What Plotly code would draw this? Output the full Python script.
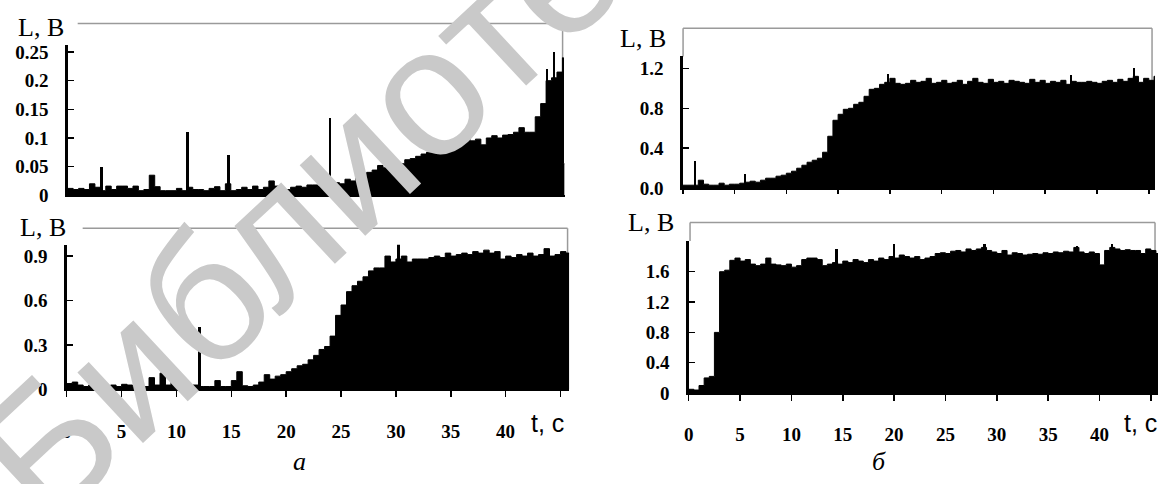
import numpy as np
import plotly.graph_objects as go

W, H = 1161, 484

# ---------------- data ----------------
t_grid = np.round(np.arange(0, 45.51, 0.5), 2)   # sample times, s

# panel "a", upper graph
L_a_top = [0.012, 0.010, 0.012, 0.010, 0.020, 0.014, 0.008, 0.016, 0.010, 0.016,
           0.016, 0.012, 0.016, 0.008, 0.010, 0.035, 0.015, 0.008, 0.008, 0.008,
           0.012, 0.008, 0.014, 0.010, 0.010, 0.008, 0.012, 0.015, 0.008, 0.020,
           0.008, 0.010, 0.014, 0.010, 0.016, 0.010, 0.014, 0.025, 0.016, 0.012,
           0.010, 0.014, 0.016, 0.014, 0.018, 0.018, 0.016, 0.018, 0.018, 0.022,
           0.020, 0.028, 0.025, 0.030, 0.032, 0.040, 0.044, 0.052, 0.048, 0.050,
           0.058, 0.055, 0.062, 0.064, 0.068, 0.072, 0.075, 0.078, 0.082, 0.085,
           0.088, 0.090, 0.098, 0.105, 0.095, 0.098, 0.088, 0.100, 0.104, 0.100,
           0.105, 0.106, 0.110, 0.118, 0.110, 0.110, 0.137, 0.160, 0.200, 0.205,
           0.215, 0.240]
tail_a_top_t = [45.6, 45.7]
tail_a_top_v = [0.055, 0.055]
spike_a_top_t = [3.1, 11.0, 14.8, 24.1, 44.1, 44.7]
spike_a_top_v = [0.05, 0.11, 0.07, 0.135, 0.22, 0.25]

# panel "a", lower graph
L_a_bot = [0.04, 0.05, 0.03, 0.02, 0.03, 0.02, 0.04, 0.025, 0.03, 0.02,
           0.035, 0.03, 0.02, 0.025, 0.02, 0.08, 0.03, 0.11, 0.03, 0.07,
           0.02, 0.025, 0.02, 0.03, 0.02, 0.02, 0.02, 0.06, 0.02, 0.02,
           0.06, 0.12, 0.025, 0.02, 0.03, 0.05, 0.10, 0.07, 0.09, 0.10,
           0.12, 0.14, 0.16, 0.17, 0.20, 0.23, 0.27, 0.29, 0.36, 0.50,
           0.57, 0.66, 0.70, 0.73, 0.76, 0.80, 0.82, 0.82, 0.90, 0.86,
           0.88, 0.90, 0.86, 0.88, 0.88, 0.88, 0.89, 0.90, 0.89, 0.92,
           0.90, 0.91, 0.92, 0.91, 0.93, 0.92, 0.94, 0.92, 0.93, 0.88,
           0.90, 0.89, 0.91, 0.90, 0.92, 0.90, 0.91, 0.95, 0.90, 0.91,
           0.93, 0.92]
tail_a_bot_t = [45.8]
tail_a_bot_v = [0.92]
spike_a_bot_t = [8.8, 12.1, 30.25, 43.8]
spike_a_bot_v = [0.16, 0.42, 0.98, 0.95]

# panel "b", upper graph
L_b_top = [0.03, 0.03, 0.03, 0.08, 0.04, 0.03, 0.03, 0.05, 0.03, 0.04,
           0.04, 0.05, 0.06, 0.07, 0.06, 0.08, 0.10, 0.10, 0.12, 0.13,
           0.15, 0.17, 0.20, 0.23, 0.26, 0.28, 0.30, 0.36, 0.52, 0.68,
           0.74, 0.79, 0.80, 0.84, 0.86, 0.92, 0.99, 1.00, 1.04, 1.06,
           1.10, 1.05, 1.04, 1.05, 1.08, 1.06, 1.07, 1.10, 1.05, 1.06,
           1.08, 1.05, 1.06, 1.08, 1.04, 1.07, 1.10, 1.06, 1.05, 1.09,
           1.06, 1.07, 1.05, 1.08, 1.07, 1.06, 1.05, 1.09, 1.06, 1.08,
           1.05, 1.07, 1.06, 1.08, 1.04, 1.07, 1.06, 1.06, 1.07, 1.06,
           1.05, 1.07, 1.08, 1.06, 1.09, 1.07, 1.10, 1.12, 1.06, 1.10,
           1.08, 1.12]
tail_b_top_t = [45.6]
tail_b_top_v = [1.12]
spike_b_top_t = [1.15, 6.0, 19.8, 37.5, 43.6]
spike_b_top_v = [0.27, 0.14, 1.14, 1.13, 1.20]

# panel "b", lower graph
L_b_bot = [0.05, 0.04, 0.10, 0.20, 0.22, 0.80, 1.60, 1.62, 1.75, 1.78,
           1.74, 1.76, 1.70, 1.68, 1.70, 1.78, 1.70, 1.69, 1.68, 1.70,
           1.66, 1.68, 1.76, 1.78, 1.78, 1.76, 1.68, 1.70, 1.72, 1.70,
           1.74, 1.72, 1.76, 1.74, 1.72, 1.76, 1.74, 1.78, 1.76, 1.80,
           1.78, 1.82, 1.80, 1.78, 1.80, 1.76, 1.78, 1.80, 1.84, 1.85,
           1.84, 1.87, 1.88, 1.86, 1.90, 1.88, 1.90, 1.92, 1.88, 1.86,
           1.84, 1.88, 1.82, 1.85, 1.84, 1.82, 1.83, 1.84, 1.83, 1.85,
           1.84, 1.86, 1.85, 1.87, 1.86, 1.92, 1.86, 1.84, 1.86, 1.84,
           1.69, 1.88, 1.92, 1.90, 1.88, 1.89, 1.88, 1.88, 1.84, 1.90,
           1.88, 1.84]
tail_b_bot_t = [45.7]
tail_b_bot_v = [1.84]
spike_b_bot_t = [14.4, 20.0, 28.8, 37.8, 41.2]
spike_b_bot_v = [1.90, 1.96, 1.96, 1.94, 1.96]

x_tick_vals = [0, 5, 10, 15, 20, 25, 30, 35, 40, 45]
x_tick_text = ["0", "5", "10", "15", "20", "25", "30", "35", "40", ""]

y_a_top_vals = [0, 0.05, 0.1, 0.15, 0.2, 0.25]
y_a_top_text = ["0", "0.05", "0.1", "0.15", "0.2", "0.25"]
y_a_bot_vals = [0, 0.3, 0.6, 0.9]
y_a_bot_text = ["0", "0.3", "0.6", "0.9"]
y_b_top_vals = [0, 0.4, 0.8, 1.2]
y_b_top_text = ["0.0", "0.4", "0.8", "1.2"]
y_b_bot_vals = [0, 0.4, 0.8, 1.2, 1.6]
y_b_bot_text = ["0", "0.4", "0.8", "1.2", "1.6"]

# ---------------- helpers ----------------
def px(x):
    return x / W

def py(y):
    return 1 - y / H

SERIF = "Liberation Serif"
SANS = "Liberation Sans"
tickfont = dict(family=SERIF, size=19, color="black", weight="bold")

fig = go.Figure()

panels = [
    ("", L_a_top, tail_a_top_t, tail_a_top_v, spike_a_top_t, spike_a_top_v,
     (63, 562), (43, 198), [0, 45.7], [0, 0.2627], (y_a_top_vals, y_a_top_text), False, ""),
    ("2", L_a_bot, tail_a_bot_t, tail_a_bot_v, spike_a_bot_t, spike_a_bot_v,
     (62, 566.7), (249, 398), [0, 45.8], [0, 0.976], (y_a_bot_vals, y_a_bot_text), True, "outside"),
    ("3", L_b_top, tail_b_top_t, tail_b_top_v, spike_b_top_t, spike_b_top_v,
     (680.7, 1155), (55, 190.7), [0, 45.6], [0, 1.3196], (y_b_top_vals, y_b_top_text), False, "outside"),
    ("4", L_b_bot, tail_b_bot_t, tail_b_bot_v, spike_b_bot_t, spike_b_bot_v,
     (686.7, 1158), (245, 401.7), [0, 45.7], [0, 2.006], (y_b_bot_vals, y_b_bot_text), True, "outside"),
]

layout_axes = {}
for key, vals, tt, tv, st, sv, xp, yp, xr, yr, yt, showx, xticks in panels:
    xa, ya = "x" + key, "y" + key
    t_all = list(t_grid) + list(tt)
    v_all = list(vals) + list(tv)
    fig.add_trace(go.Scatter(
        x=t_all, y=v_all, xaxis=xa, yaxis=ya, mode="lines",
        line=dict(shape="hv", color="black", width=1),
        fill="tozeroy", fillcolor="black", hoverinfo="skip", showlegend=False))
    fig.add_trace(go.Bar(
        x=st, y=sv, xaxis=xa, yaxis=ya, width=0.22,
        marker=dict(color="black", line=dict(width=0)),
        hoverinfo="skip", showlegend=False))
    layout_axes["xaxis" + key] = dict(
        domain=[px(xp[0]), px(xp[1])], range=xr, anchor=ya,
        showline=True, linecolor="black", linewidth=1.5,
        ticks=xticks, ticklen=6 if showx else 4, tickwidth=1.5, tickcolor="black",
        tickvals=x_tick_vals, ticktext=x_tick_text,
        showticklabels=showx, tickfont=tickfont, ticklabelstandoff=18,
        showgrid=False, zeroline=False, fixedrange=True)
    layout_axes["yaxis" + key] = dict(
        domain=[py(yp[1]), py(yp[0])], range=yr, anchor=xa,
        showline=True, linecolor="black", linewidth=2.5,
        ticks="inside", ticklen=6, tickwidth=1.5, tickcolor="black",
        tickvals=yt[0], ticktext=yt[1], tickfont=tickfont, ticklabelstandoff=13,
        showgrid=False, zeroline=False, fixedrange=True)

# ---------------- frames (grey top/right lines) ----------------
GREY = "#9a9a9a"
frame_lines = [
    (73, 21, 560, 21), (560, 21, 560, 198),
    (78, 232, 565, 232), (565, 232, 565, 398),
    (681, 26, 1152, 26), (1152, 26, 1152, 190.7), (681, 26, 681, 55),
    (688, 226, 1155, 226), (1155, 226, 1155, 401.7), (688, 226, 688, 245),
]
shapes = []
for x0, y0, x1, y1 in frame_lines:
    shapes.append(dict(type="line", xref="paper", yref="paper",
                       x0=px(x0), y0=py(y0), x1=px(x1), y1=py(y1),
                       line=dict(color=GREY, width=1.5), layer="below"))

# ---------------- texts ----------------
ann = []
def text(s, x, y, size, family=SERIF, xanchor="center", italic=False, color="black", angle=0):
    ann.append(dict(text=s, x=px(x), y=py(y), xref="paper", yref="paper",
                    xanchor=xanchor, yanchor="middle", showarrow=False,
                    textangle=angle,
                    font=dict(family=family, size=size, color=color,
                              style="italic" if italic else "normal")))

text("L, B", 61, 25, 26, xanchor="right")
text("L, B", 63, 231, 26, xanchor="right")
text("L, B", 666, 37, 26, xanchor="right")
text("L, B", 674, 226, 26, xanchor="right")
text("t, c", 563, 433, 25, family=SANS, xanchor="right")
text("t, c", 1159, 433, 25, family=SANS, xanchor="right")
text("а", 296, 472, 26, italic=True)
text("б", 878, 472, 26, italic=True)

# watermark
ann.append(dict(text="Библиотека", x=px(362), y=py(150), xref="paper", yref="paper",
                xanchor="center", yanchor="middle", showarrow=False, textangle=-43,
                font=dict(family=SANS, size=182, color="#c9c9c9")))

fig.update_layout(
    width=W, height=H, margin=dict(l=0, r=0, t=0, b=0),
    paper_bgcolor="white", plot_bgcolor="rgba(0,0,0,0)",
    showlegend=False, bargap=0, shapes=shapes, annotations=ann,
    **layout_axes)

fig.write_html("out.html", config={"displayModeBar": False, "staticPlot": True},
               post_script="document.body.style.margin='0';document.body.style.overflow='hidden';")
